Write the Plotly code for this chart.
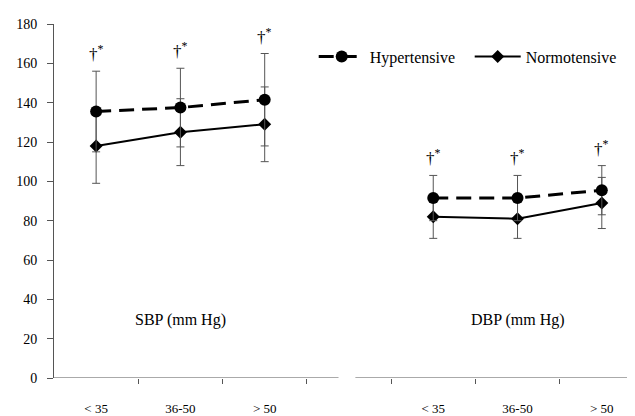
import plotly.graph_objects as go

# ---- data ----
age_groups = ["< 35", "36-50", "> 50"]
measures = ["SBP (mm Hg)", "DBP (mm Hg)"]
hyp_sbp = [135.5, 137.5, 141.5]
hyp_sbp_sd = [20.5, 20.0, 23.5]
norm_sbp = [118, 125, 129]
norm_sbp_sd = [19.0, 17.0, 19.0]
hyp_dbp = [91.5, 91.5, 95.5]
hyp_dbp_sd = [11.5, 11.5, 12.5]
norm_dbp = [82, 81, 89]
norm_dbp_sd = [11.0, 10.0, 13.0]
sig_mark = "†<sup>*</sup>"
y_ticks = [0, 20, 40, 60, 80, 100, 120, 140, 160, 180]

# positions: 3 SBP categories, one blank slot, 3 DBP categories
xpos = [0, 1, 2, 3, 4, 5, 6]
cat_labels = age_groups + [""] + age_groups

hyp_y = hyp_sbp + [None] + hyp_dbp
hyp_e = hyp_sbp_sd + [0] + hyp_dbp_sd
norm_y = norm_sbp + [None] + norm_dbp
norm_e = norm_sbp_sd + [0] + norm_dbp_sd

FONT = "Liberation Serif"
AX = "#555555"

fig = go.Figure()
fig.add_trace(go.Scatter(
    x=xpos, y=norm_y, name="Normotensive", mode="lines+markers",
    line=dict(color="black", width=2),
    marker=dict(symbol="diamond", size=10, color="black"),
    error_y=dict(type="data", array=norm_e, color=AX, thickness=1, width=4),
    connectgaps=False,
))
fig.add_trace(go.Scatter(
    x=xpos, y=hyp_y, name="Hypertensive", mode="lines+markers",
    line=dict(color="black", width=3, dash="15px,8px"),
    marker=dict(symbol="circle", size=12, color="black"),
    error_y=dict(type="data", array=hyp_e, color=AX, thickness=1, width=4),
    connectgaps=False,
))
# dummy trace to carry the category label axis
fig.add_trace(go.Scatter(x=[0], y=[None], xaxis="x2", showlegend=False,
                         hoverinfo="skip", mode="markers"))

xrange = [-0.5, 6.394]

annotations = []
for xi, yv, e in zip(xpos, hyp_y, hyp_e):
    if yv is None:
        continue
    annotations.append(dict(x=xi, y=yv + e, xref="x", yref="y", text=sig_mark,
                            showarrow=False, yanchor="bottom", yshift=5,
                            font=dict(family=FONT, size=17, color="black")))
for xi, m in zip([1, 5], measures):
    annotations.append(dict(x=xi, y=29.5, xref="x", yref="y", text=m,
                            showarrow=False,
                            font=dict(family=FONT, size=16, color="black")))

shapes = [
    dict(type="line", xref="x", yref="y", x0=-0.5, x1=2.876, y0=0, y1=0,
         line=dict(color=AX, width=1)),
    dict(type="line", xref="x", yref="y", x0=3.076, x1=6.5, y0=0, y1=0,
         line=dict(color=AX, width=1)),
]

fig.update_layout(
    width=635, height=416,
    margin=dict(l=41, r=8, t=16, b=41),
    paper_bgcolor="white", plot_bgcolor="white",
    font=dict(family=FONT, size=13, color="black"),
    xaxis=dict(range=xrange, tickvals=[0.5, 1.5, 2.5, 3.5, 4.5, 5.5, 6.5],
               ticktext=[""] * 7, ticks="outside", ticklen=5, tickcolor=AX,
               showline=False, showgrid=False, zeroline=False),
    xaxis2=dict(range=xrange, overlaying="x", side="bottom", anchor="y",
                tickvals=xpos, ticktext=cat_labels, ticks="", showline=False,
                showgrid=False, zeroline=False, ticklabelstandoff=21,
                tickfont=dict(family=FONT, size=13, color="black")),
    yaxis=dict(range=[0, 180], tickvals=y_ticks, ticks="outside", ticklen=6,
               tickcolor=AX, showline=True, linecolor=AX, linewidth=1,
               showgrid=False, zeroline=False, ticklabelstandoff=7,
               tickfont=dict(family=FONT, size=14, color="black")),
    legend=dict(orientation="h", x=0.447, y=0.908, xanchor="left",
                yanchor="middle", traceorder="reversed",
                itemwidth=46, entrywidth=95,
                font=dict(family=FONT, size=16, color="black"),
                bgcolor="rgba(0,0,0,0)"),
    annotations=annotations,
    shapes=shapes,
    showlegend=True,
)

fig.write_html("out.html")
